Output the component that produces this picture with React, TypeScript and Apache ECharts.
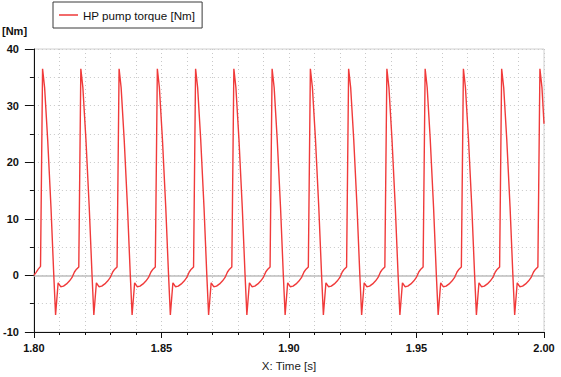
import React, { useEffect, useRef } from "react";
import * as echarts from "echarts";

// Time stamps [s] (one row per pump cycle)
const timeS: number[] = [
  1.8000, 1.8008, 1.8017, 1.8026,
  1.8034, 1.8042, 1.8054, 1.8067, 1.8078, 1.8085, 1.8095, 1.8105, 1.8116, 1.8128, 1.8139, 1.8149, 1.8159, 1.8167, 1.8176,
  1.8184, 1.8192, 1.8204, 1.8217, 1.8228, 1.8235, 1.8245, 1.8255, 1.8266, 1.8278, 1.8289, 1.8299, 1.8309, 1.8317, 1.8326,
  1.8334, 1.8342, 1.8354, 1.8367, 1.8378, 1.8385, 1.8395, 1.8405, 1.8416, 1.8428, 1.8439, 1.8449, 1.8459, 1.8467, 1.8476,
  1.8484, 1.8492, 1.8504, 1.8517, 1.8528, 1.8535, 1.8545, 1.8555, 1.8566, 1.8578, 1.8589, 1.8599, 1.8609, 1.8617, 1.8626,
  1.8634, 1.8642, 1.8654, 1.8667, 1.8678, 1.8685, 1.8695, 1.8705, 1.8716, 1.8728, 1.8739, 1.8749, 1.8759, 1.8767, 1.8776,
  1.8784, 1.8792, 1.8804, 1.8817, 1.8828, 1.8835, 1.8845, 1.8855, 1.8866, 1.8878, 1.8889, 1.8899, 1.8909, 1.8917, 1.8926,
  1.8934, 1.8942, 1.8954, 1.8967, 1.8978, 1.8985, 1.8995, 1.9005, 1.9016, 1.9028, 1.9039, 1.9049, 1.9059, 1.9067, 1.9076,
  1.9084, 1.9092, 1.9104, 1.9117, 1.9128, 1.9135, 1.9145, 1.9155, 1.9166, 1.9178, 1.9189, 1.9199, 1.9209, 1.9217, 1.9226,
  1.9234, 1.9242, 1.9254, 1.9267, 1.9278, 1.9285, 1.9295, 1.9305, 1.9316, 1.9328, 1.9339, 1.9349, 1.9359, 1.9367, 1.9376,
  1.9384, 1.9392, 1.9404, 1.9417, 1.9428, 1.9435, 1.9445, 1.9455, 1.9466, 1.9478, 1.9489, 1.9499, 1.9509, 1.9517, 1.9526,
  1.9534, 1.9542, 1.9554, 1.9567, 1.9578, 1.9585, 1.9595, 1.9605, 1.9616, 1.9628, 1.9639, 1.9649, 1.9659, 1.9667, 1.9676,
  1.9684, 1.9692, 1.9704, 1.9717, 1.9728, 1.9735, 1.9745, 1.9755, 1.9766, 1.9778, 1.9789, 1.9799, 1.9809, 1.9817, 1.9826,
  1.9834, 1.9842, 1.9854, 1.9867, 1.9878, 1.9885, 1.9895, 1.9905, 1.9916, 1.9928, 1.9939, 1.9949, 1.9959, 1.9967, 1.9976,
  1.9984, 1.9992, 2.0000,
];

// HP pump torque [Nm]
const torqueNm: number[] = [
  0.0, 0.5, 1.1, 1.6,
  36.5, 33.2, 24.0, 12.0, 0.0, -7.0, -1.3, -2.0, -1.9, -1.5, -1.0, -0.4, 0.6, 1.1, 1.5,
  36.5, 33.2, 24.0, 12.0, 0.0, -7.0, -1.3, -2.0, -1.9, -1.5, -1.0, -0.4, 0.6, 1.1, 1.5,
  36.5, 33.2, 24.0, 12.0, 0.0, -7.0, -1.3, -2.0, -1.9, -1.5, -1.0, -0.4, 0.6, 1.1, 1.5,
  36.5, 33.2, 24.0, 12.0, 0.0, -7.0, -1.3, -2.0, -1.9, -1.5, -1.0, -0.4, 0.6, 1.1, 1.5,
  36.5, 33.2, 24.0, 12.0, 0.0, -7.0, -1.3, -2.0, -1.9, -1.5, -1.0, -0.4, 0.6, 1.1, 1.5,
  36.5, 33.2, 24.0, 12.0, 0.0, -7.0, -1.3, -2.0, -1.9, -1.5, -1.0, -0.4, 0.6, 1.1, 1.5,
  36.5, 33.2, 24.0, 12.0, 0.0, -7.0, -1.3, -2.0, -1.9, -1.5, -1.0, -0.4, 0.6, 1.1, 1.5,
  36.5, 33.2, 24.0, 12.0, 0.0, -7.0, -1.3, -2.0, -1.9, -1.5, -1.0, -0.4, 0.6, 1.1, 1.5,
  36.5, 33.2, 24.0, 12.0, 0.0, -7.0, -1.3, -2.0, -1.9, -1.5, -1.0, -0.4, 0.6, 1.1, 1.5,
  36.5, 33.2, 24.0, 12.0, 0.0, -7.0, -1.3, -2.0, -1.9, -1.5, -1.0, -0.4, 0.6, 1.1, 1.5,
  36.5, 33.2, 24.0, 12.0, 0.0, -7.0, -1.3, -2.0, -1.9, -1.5, -1.0, -0.4, 0.6, 1.1, 1.5,
  36.5, 33.2, 24.0, 12.0, 0.0, -7.0, -1.3, -2.0, -1.9, -1.5, -1.0, -0.4, 0.6, 1.1, 1.5,
  36.5, 33.2, 24.0, 12.0, 0.0, -7.0, -1.3, -2.0, -1.9, -1.5, -1.0, -0.4, 0.6, 1.1, 1.5,
  36.5, 33.2, 26.8,
];

const seriesName = "HP pump torque [Nm]";
const xTitle = "X: Time [s]";
const yUnit = "[Nm]";

const FONT = "Liberation Sans";

export default function App() {
  const ref = useRef<HTMLDivElement>(null);

  useEffect(() => {
    if (!ref.current) return;
    const chart = echarts.init(ref.current, undefined, { renderer: "svg" });
    const data = timeS.map((t, i) => [t, torqueNm[i]]);
    chart.setOption({
      animation: false,
      backgroundColor: "#ffffff",
      textStyle: { fontFamily: FONT },
      grid: {
        left: 30,
        right: 17,
        top: 49,
        bottom: 41,
        show: true,
        borderColor: "#d0d0d0",
        borderWidth: 1,
        backgroundColor: "transparent",
      },
      legend: {
        show: true,
        left: 53,
        top: 2,
        padding: [6, 7, 6, 6],
        borderColor: "#3a3a3a",
        borderWidth: 1,
        borderRadius: 0,
        backgroundColor: "#ffffff",
        itemWidth: 19,
        itemHeight: 2,
        icon: "rect",
        textStyle: { fontFamily: FONT, fontSize: 11.6, color: "#111", lineHeight: 14 },
        data: [{ name: seriesName, itemStyle: { color: "#f26a6a" } }],
      },
      graphic: [
        {
          type: "text",
          left: 2,
          top: 25,
          style: { text: yUnit, font: `bold 11px "${FONT}"`, fill: "#111" },
        },
      ],
      xAxis: {
        type: "value",
        min: 1.8,
        max: 2.0,
        interval: 0.05,
        name: xTitle,
        nameLocation: "middle",
        nameGap: 28,
        nameTextStyle: { fontFamily: FONT, fontSize: 11.5, color: "#222" },
        axisLine: { show: true, onZero: false, lineStyle: { color: "#111", width: 1 } },
        axisTick: { show: true, length: 6, lineStyle: { color: "#111" } },
        minorTick: { show: true, splitNumber: 5, length: 3, lineStyle: { color: "#111" } },
        axisLabel: {
          margin: 10,
          fontFamily: FONT,
          fontSize: 11,
          fontWeight: "bold",
          color: "#111",
          formatter: (v: number) => v.toFixed(2),
        },
        splitLine: { show: true, lineStyle: { color: "#c8c8c8", type: [1, 3], width: 1 } },
        minorSplitLine: { show: true, lineStyle: { color: "#c8c8c8", type: [1, 3], width: 1 } },
      },
      yAxis: {
        type: "value",
        min: -10,
        max: 40,
        interval: 10,
        axisLine: { show: true, onZero: false, lineStyle: { color: "#111", width: 1 } },
        axisTick: { show: true, length: 9, lineStyle: { color: "#111" } },
        minorTick: { show: true, splitNumber: 2, length: 4, lineStyle: { color: "#111" } },
        axisLabel: {
          margin: 15,
          fontFamily: FONT,
          fontSize: 11,
          fontWeight: "bold",
          color: "#111",
        },
        splitLine: { show: true, lineStyle: { color: "#c8c8c8", type: [1, 3], width: 1 } },
        minorSplitLine: { show: true, lineStyle: { color: "#c8c8c8", type: [1, 3], width: 1 } },
      },
      series: [
        {
          name: seriesName,
          type: "line",
          data,
          symbol: "none",
          showSymbol: false,
          lineStyle: { color: "#f03a3a", width: 1.4 },
          itemStyle: { color: "#f03a3a" },
          markLine: {
            silent: true,
            symbol: "none",
            label: { show: false },
            lineStyle: { color: "#bdbdbd", type: "solid", width: 1.5 },
            data: [{ yAxis: 0 }],
            z: 1,
          },
        },
      ],
    });
    return () => chart.dispose();
  }, []);

  return (
    <div
      ref={ref}
      style={{ position: "fixed", left: 0, top: 0, width: 561, height: 377, background: "#fff" }}
    />
  );
}
